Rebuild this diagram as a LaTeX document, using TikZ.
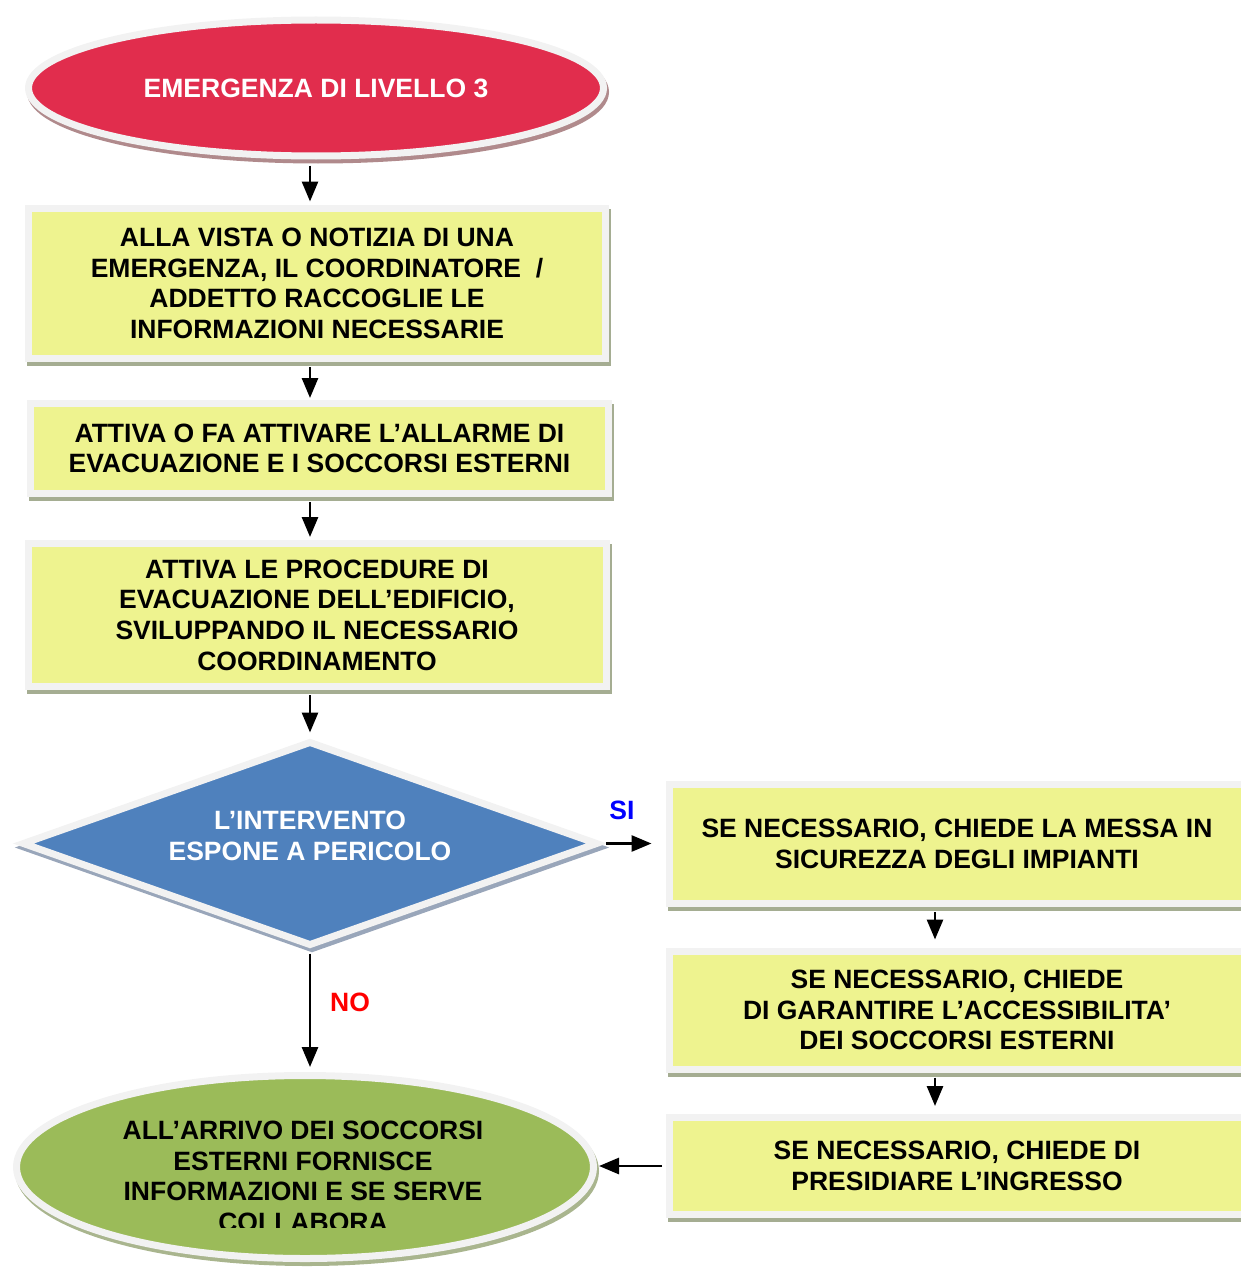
\documentclass[tikz,border=0pt]{standalone}
\usepackage{fontspec}
\setmainfont{Liberation Sans}
\usetikzlibrary{shapes.geometric,shadows,arrows.meta,calc}
\definecolor{rimgray}{HTML}{F2F2F2}
\definecolor{boxyellow}{HTML}{EEF38F}
\definecolor{boxshadow}{HTML}{A5AD92}
\definecolor{redfill}{HTML}{E12D4D}
\definecolor{redshadow}{HTML}{B08A8C}
\definecolor{bluefill}{HTML}{4F81BD}
\definecolor{blueshadow}{HTML}{99A6BA}
\definecolor{greenfill}{HTML}{9BBB59}
\definecolor{greenshadow}{HTML}{A9B58E}
\definecolor{siblue}{HTML}{0000FF}
\definecolor{nored}{HTML}{FF0000}
\begin{document}
\begin{tikzpicture}[x=1pt,y=-1pt,
  txt/.style={font=\bfseries\fontsize{26.5}{30.7}\selectfont, align=center},
  arr/.style={line width=2.8pt, -{Triangle[length=20pt,width=16pt]}},
  rimmed/.style={draw=rimgray, line width=7pt, inner sep=0pt,
     drop shadow={shadow xshift=2pt, shadow yshift=-4pt, fill=#1, draw=#1, line width=7pt, opacity=1}},
  ybox/.style={rectangle, fill=boxyellow, rimmed=boxshadow, txt, text=black, minimum width=577pt},
  redell/.style={ellipse, fill=redfill, rimmed=redshadow, txt, text=white},
  greenell/.style={ellipse, fill=greenfill, rimmed=greenshadow},
  dia/.style={diamond, fill=bluefill, rimmed=blueshadow},
]
\useasboundingbox (0,0) rectangle (1241,1271);

\node[redell, minimum width=575pt, minimum height=136pt] (start) at (316,88) {EMERGENZA DI LIVELLO 3};

\node[ybox, minimum height=150pt] (b1) at (317,283.5)
  {ALLA VISTA O NOTIZIA DI UNA\\EMERGENZA, IL COORDINATORE~~/\\ADDETTO RACCOGLIE LE\\INFORMAZIONI NECESSARIE};

\node[ybox, minimum width=578pt, minimum height=90pt] (b2) at (319.5,448.5)
  {ATTIVA O FA ATTIVARE L’ALLARME DI\\EVACUAZIONE E I SOCCORSI ESTERNI};

\node[ybox, minimum width=578pt, minimum height=143pt] (b3) at (317,615)
  {ATTIVA LE PROCEDURE DI\\EVACUAZIONE DELL’EDIFICIO,\\SVILUPPANDO IL NECESSARIO\\COORDINAMENTO};

\node[dia, minimum width=576pt, minimum height=205pt] (dia) at (310,843.5) {};
\node[txt, text=white] (diatxt) at (310,836) {L’INTERVENTO\\ESPONE A PERICOLO};

\node[ybox, minimum width=576pt, minimum height=119pt] (r1) at (957,844)
  {SE NECESSARIO, CHIEDE LA MESSA IN\\SICUREZZA DEGLI IMPIANTI};

\node[ybox, minimum width=576pt, minimum height=118pt] (r2) at (957,1010)
  {SE NECESSARIO, CHIEDE\\DI GARANTIRE L’ACCESSIBILITA’\\DEI SOCCORSI ESTERNI};

\node[ybox, minimum width=576pt, minimum height=97pt] (r3) at (957,1166)
  {SE NECESSARIO, CHIEDE DI\\PRESIDIARE L’INGRESSO};

\node[greenell, minimum width=577pt, minimum height=183pt] (fin) at (305,1167) {};
\begin{scope}
  \clip (0,0) rectangle (1241,1227);
  \node[txt, text=black] (fintxt) at (303,1176.5)
    {ALL’ARRIVO DEI SOCCORSI\\ESTERNI FORNISCE\\INFORMAZIONI E SE SERVE\\COLLABORA};
\end{scope}

\node[txt, text=siblue] (si) at (622,810) {SI};
\node[txt, text=nored] (no) at (350,1002) {NO};

\draw[arr, shorten <=6pt, shorten >=3.5pt] (start.south -| dia.north) -- (b1.north -| dia.north);
\draw[arr, shorten <=5pt, shorten >=2pt] (b1.south -| dia.north) -- (b2.north -| dia.north);
\draw[arr, shorten <=5pt, shorten >=3pt] (b2.south -| dia.north) -- (b3.north -| dia.north);
\draw[arr, shorten <=5pt, shorten >=5pt] (b3.south -| dia.north) -- (dia.north);
\draw[arr, shorten <=4pt, shorten >=14pt] (dia.east) -- (dia.east -| r1.west);
\draw[arr, shorten <=4pt, shorten >=5pt] (dia.south) -- (dia.south |- fin.north);
\draw[arr] ($(r1.south)+(-22,5)$) -- ($(r2.north)+(-22,-8)$);
\draw[arr] ($(r2.south)+(-22,5)$) -- ($(r3.north)+(-22,-8)$);
\draw[arr, shorten <=3.5pt, shorten >=2pt] (r3.west) -- (r3.west -| fin.east);
\end{tikzpicture}
\end{document}
